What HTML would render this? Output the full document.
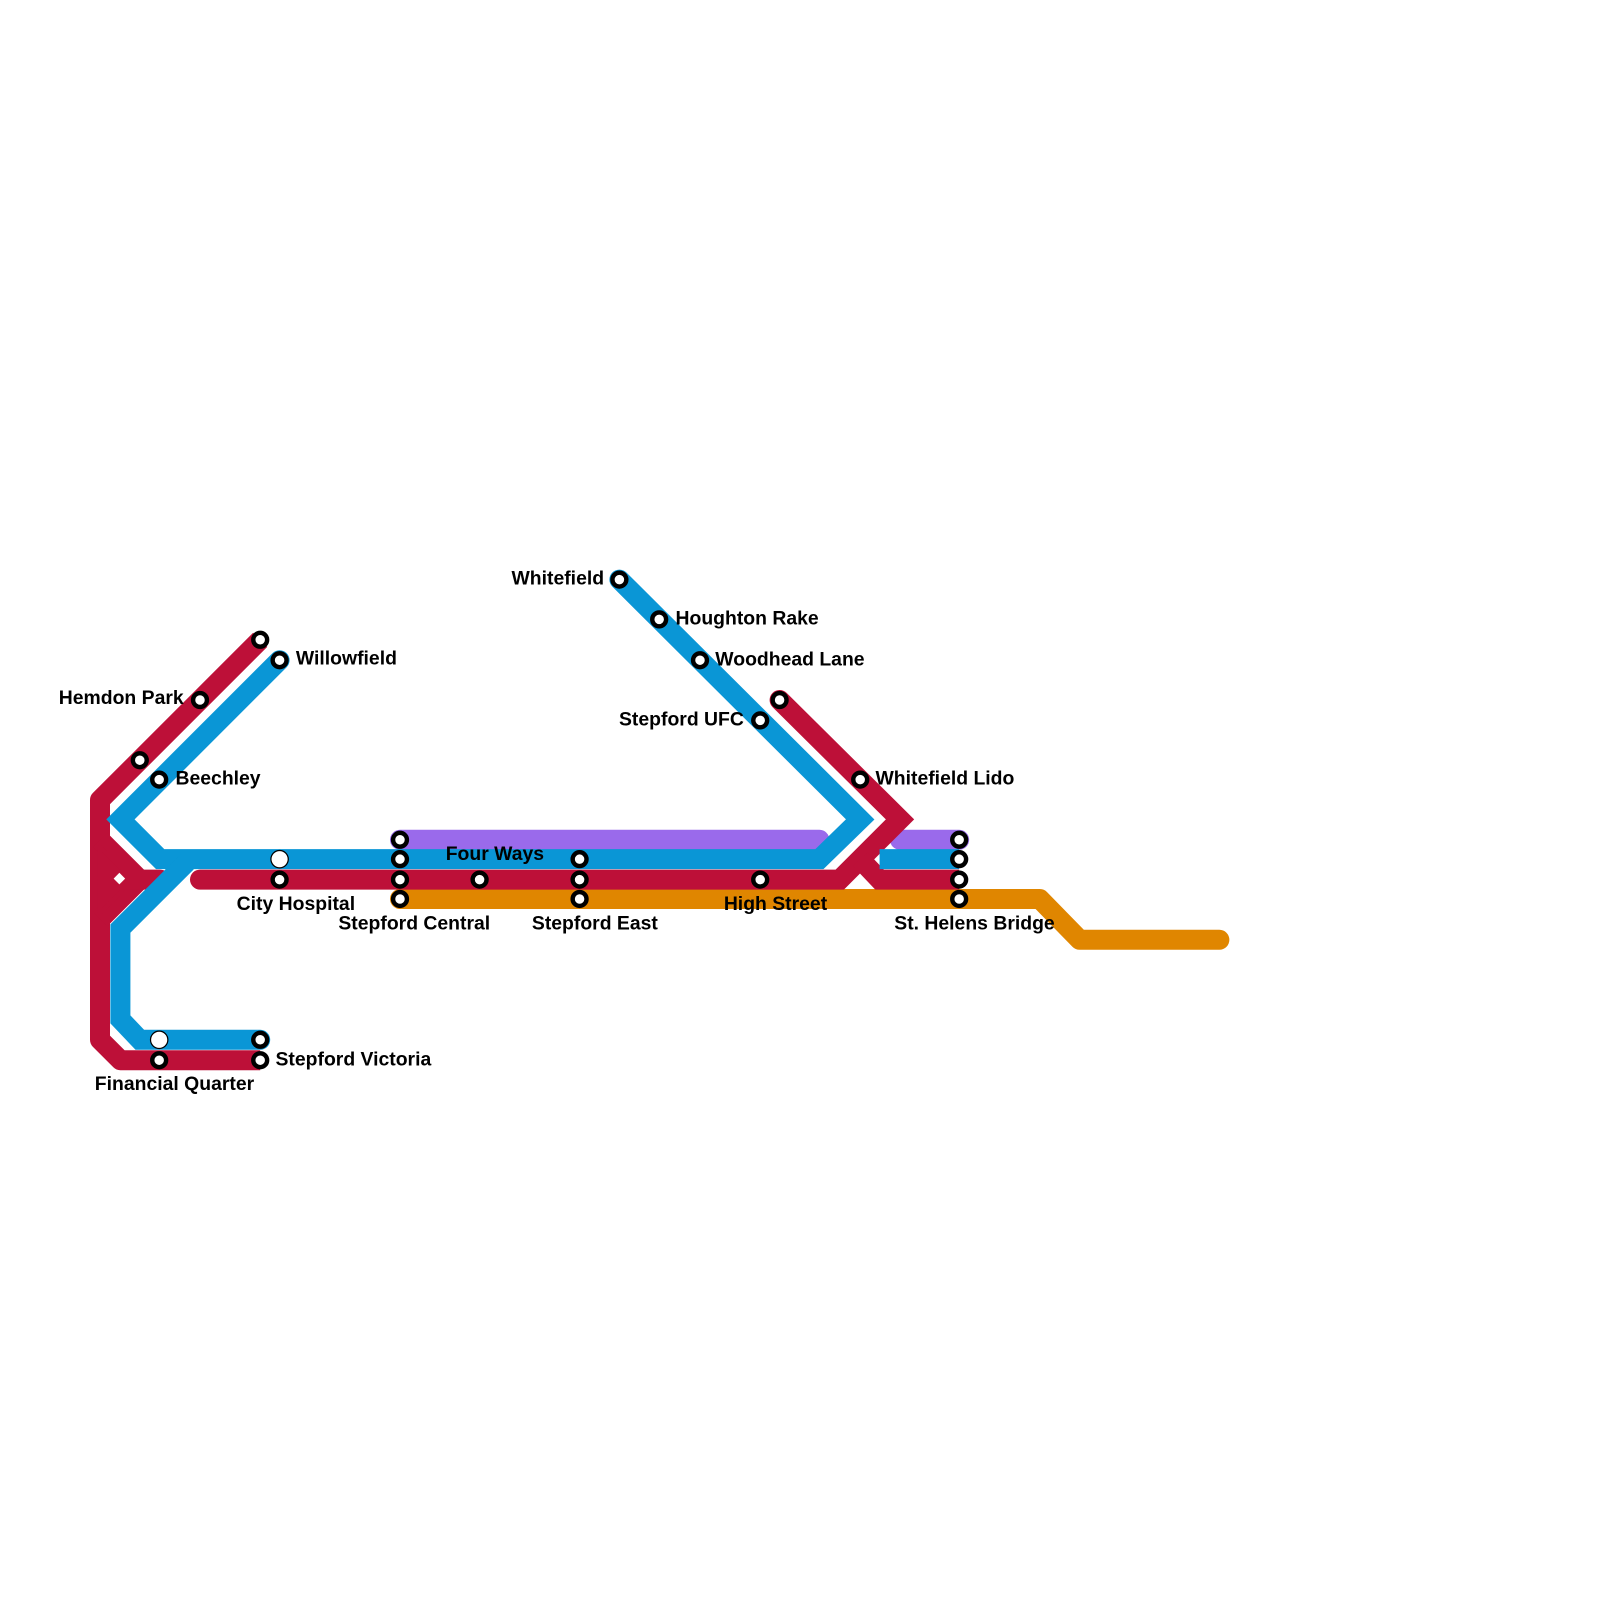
<!DOCTYPE html>
<html><head><style>html,body{margin:0;padding:0;background:#fff}svg{display:block}</style></head>
<body>
<svg width="1600" height="1600" viewBox="0 0 1600 1600" xmlns="http://www.w3.org/2000/svg">
<g transform="scale(1.0204)">
<g fill="none" stroke-width="19.6" stroke-linecap="round" stroke-linejoin="round">
<path d="M392 881 H1019 L1058 921 H1195" stroke="#E08600"/>
<path d="M392 823 H803" stroke="#9A6AEB"/>
<path d="M882 823 H940" stroke="#9A6AEB"/>
<path d="M255 627 L98 784 V1019 L118 1039 H255" stroke="#BD1038" stroke-linecap="butt"/>
<path d="M98 823 L137 862 L98 901" stroke="#BD1038" stroke-linejoin="round" stroke-linecap="butt"/>
<path d="M98 830 L98 895 L130 862 Z" fill="#BD1038" stroke="#BD1038" stroke-width="4"/>
<path d="M120 862 H157" stroke="#BD1038"/>
<path d="M196 862 H823 L882 803 L764 686" stroke="#BD1038" stroke-linejoin="miter"/>
<path d="M843 842 L862 862 H940" stroke="#BD1038" stroke-linecap="butt" stroke-linejoin="miter"/>
<path d="M274 647 L118 803 L157 842 H803 L843 803 L607 568" stroke="#0A96D6" stroke-linejoin="miter"/>
<path d="M182 846 L118 910 V999 L137 1019 H255" stroke="#0A96D6" stroke-linejoin="miter"/>
<path d="M862 842 H940" stroke="#0A96D6" stroke-linecap="butt"/>
</g>
<rect x="113" y="857" width="8" height="8" fill="#fff" transform="rotate(45 117 861)"/>
<g fill="#fff" stroke="#000" stroke-width="4.3">
<circle cx="255" cy="627" r="6.8"/><circle cx="274" cy="647" r="6.8"/><circle cx="196" cy="686" r="6.8"/>
<circle cx="137" cy="745" r="6.8"/><circle cx="156" cy="764" r="6.8"/>
<circle cx="274" cy="862" r="6.8"/>
<circle cx="392" cy="823" r="6.8"/><circle cx="392" cy="842" r="6.8"/><circle cx="392" cy="862" r="6.8"/><circle cx="392" cy="881" r="6.8"/>
<circle cx="470" cy="862" r="6.8"/>
<circle cx="568" cy="842" r="6.8"/><circle cx="568" cy="862" r="6.8"/><circle cx="568" cy="881" r="6.8"/>
<circle cx="607" cy="568" r="6.8"/><circle cx="646" cy="607" r="6.8"/><circle cx="686" cy="647" r="6.8"/>
<circle cx="745" cy="706" r="6.8"/><circle cx="764" cy="686" r="6.8"/><circle cx="843" cy="764" r="6.8"/>
<circle cx="745" cy="862" r="6.8"/>
<circle cx="940" cy="823" r="6.8"/><circle cx="940" cy="842" r="6.8"/><circle cx="940" cy="862" r="6.8"/><circle cx="940" cy="881" r="6.8"/>
<circle cx="255" cy="1019" r="6.8"/><circle cx="255" cy="1039" r="6.8"/><circle cx="156" cy="1039" r="6.8"/>
</g>
<g fill="#fff" stroke="#000" stroke-width="1.2">
<circle cx="274" cy="842" r="8.5"/><circle cx="156" cy="1019" r="8.5"/>
</g>
<g font-family="Liberation Sans, sans-serif" font-weight="bold" font-size="19" fill="#000">
<text x="290" y="651">Willowfield</text>
<text x="180" y="690" text-anchor="end">Hemdon Park</text>
<text x="172" y="769">Beechley</text>
<text x="348" y="892" text-anchor="end">City Hospital</text>
<text x="406" y="911" text-anchor="middle">Stepford Central</text>
<text x="485" y="843" text-anchor="middle">Four Ways</text>
<text x="583" y="911" text-anchor="middle">Stepford East</text>
<text x="592" y="573" text-anchor="end">Whitefield</text>
<text x="662" y="612">Houghton Rake</text>
<text x="701" y="652">Woodhead Lane</text>
<text x="729" y="711" text-anchor="end">Stepford UFC</text>
<text x="858" y="769">Whitefield Lido</text>
<text x="760" y="892" text-anchor="middle">High Street</text>
<text x="955" y="911" text-anchor="middle">St. Helens Bridge</text>
<text x="270" y="1044">Stepford Victoria</text>
<text x="171" y="1068" text-anchor="middle">Financial Quarter</text>
</g>
</g>
</svg>
</body></html>
